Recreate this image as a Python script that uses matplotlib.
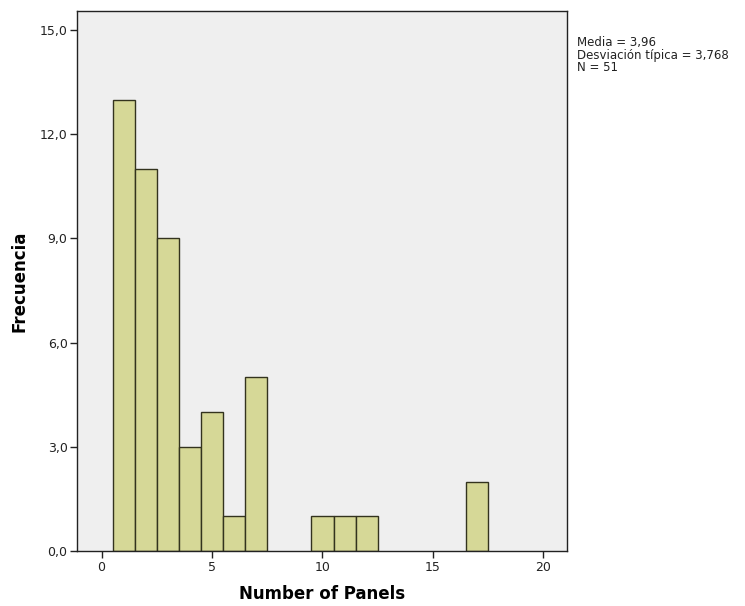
import matplotlib
matplotlib.use("Agg")
import matplotlib.pyplot as plt
from matplotlib.ticker import FuncFormatter

# Histogram bins (bin centres) and their frequencies
panel_counts = [1, 2, 3, 4, 5, 6, 7, 10, 11, 12, 17]
frequencies = [13, 11, 9, 3, 4, 1, 5, 1, 1, 1, 2]
x_ticks = [0, 5, 10, 15, 20]
y_ticks = [0, 3, 6, 9, 12, 15]
stats_text = "Media = 3,96\nDesviación típica = 3,768\nN = 51"

plt.rcParams['font.family'] = ['DejaVu Sans']

fig = plt.figure(figsize=(7.45, 6.06), dpi=100)
ax = fig.add_axes([0.1038, 0.0908, 0.761 - 0.1038, 0.9818 - 0.0908])
ax.set_facecolor('#EFEFEF')

ax.bar(panel_counts, frequencies, width=1.0, color='#D6D897',
       edgecolor='#33331E', linewidth=1.0, zorder=2)

ax.set_xlim(-1.1, 21.07)
ax.set_ylim(0, 15.55)
ax.set_xticks(x_ticks)
ax.set_yticks(y_ticks)
ax.yaxis.set_major_formatter(FuncFormatter(lambda v, p: f"{v:.1f}".replace('.', ',')))
ax.tick_params(axis='both', direction='out', length=5, width=1,
               labelsize=9, colors='#222222', pad=2)

for s in ax.spines.values():
    s.set_color('#222222')
    s.set_linewidth(1.0)

ax.set_xlabel("Number of Panels", fontsize=12, fontweight='bold', labelpad=8)
ax.set_ylabel("Frecuencia", fontsize=12, fontweight='bold', labelpad=8)

fig.text(0.774, 0.940, stats_text, fontsize=8.5, va='top', ha='left',
         linespacing=0.95, color='#222222')

fig.savefig("out.png", dpi=100, facecolor='white')
